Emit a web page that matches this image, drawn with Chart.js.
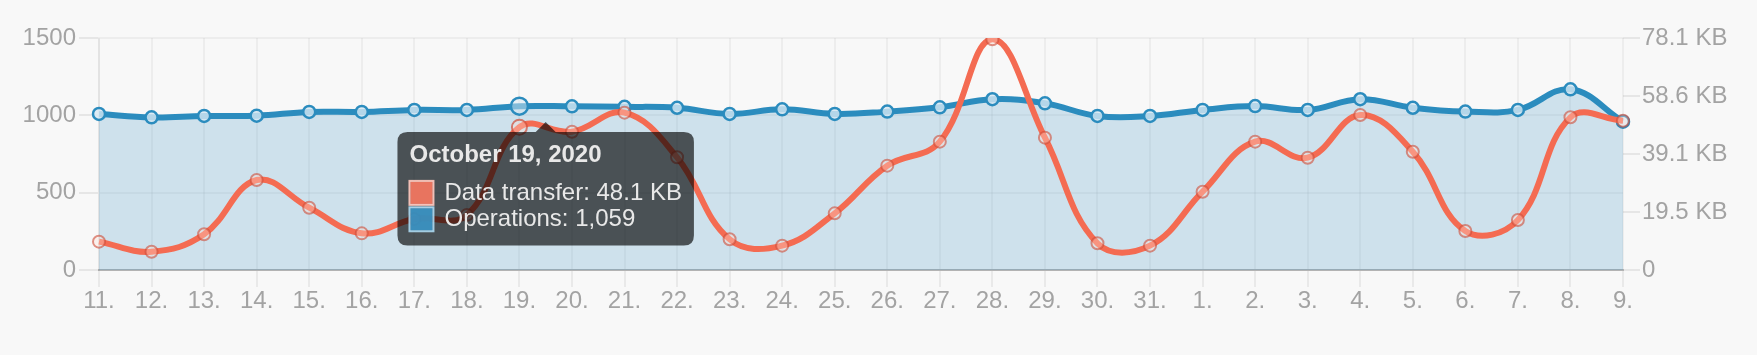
<!DOCTYPE html>
<html>
<head>
<meta charset="utf-8">
<script src="https://cdn.jsdelivr.net/npm/chart.js@4/dist/chart.umd.min.js"></script>
<style>
  html, body { margin: 0; padding: 0; background: #f8f8f8; }
  #wrap { width: 1757px; height: 355px; position: relative; }
</style>
</head>
<body>
<div id="wrap"><canvas id="c" width="1757" height="355"></canvas></div>
<script>
// ---- data ----
const dates = [
  '2020-10-11','2020-10-12','2020-10-13','2020-10-14','2020-10-15','2020-10-16','2020-10-17',
  '2020-10-18','2020-10-19','2020-10-20','2020-10-21','2020-10-22','2020-10-23','2020-10-24',
  '2020-10-25','2020-10-26','2020-10-27','2020-10-28','2020-10-29','2020-10-30','2020-10-31',
  '2020-11-01','2020-11-02','2020-11-03','2020-11-04','2020-11-05','2020-11-06','2020-11-07',
  '2020-11-08','2020-11-09'
];
// bytes
const dataTransfer = [
  9770, 6310, 12310, 31030, 21490, 12640, 17600, 19000, 49254, 47690,
  54250, 38860, 10580, 8390, 19540, 35980, 44250, 79540, 45630, 9200,
  8390, 27000, 44250, 38720, 53450, 40800, 13450, 17240, 52650, 51480
];
const operations = [
  1009, 987, 996, 998, 1022, 1022, 1035, 1035, 1059, 1058,
  1055, 1049, 1009, 1039, 1009, 1024, 1052, 1104, 1078, 996,
  996, 1035, 1060, 1035, 1104, 1049, 1024, 1035, 1168, 959
];
const opsTicks = [0, 500, 1000, 1500];
const bytesTicks = [0, 20000, 40000, 60000, 80000];
const monthNames = ['January','February','March','April','May','June','July','August','September','October','November','December'];
const hoveredIndex = 8;          // October 19
const mousePos = { index: 8.5, ops: 957 }; // where the pointer rests

const dayLabels = dates.map(d => parseInt(d.slice(8, 10), 10) + '.');
const fullTitle = d => {
  const [y, m, dd] = d.split('-').map(Number);
  return monthNames[m - 1] + ' ' + dd + ', ' + y;
};
const kb = v => v === 0 ? '0' : (v / 1024).toFixed(1) + ' KB';

const FONT = "'Liberation Sans', Arial, Helvetica, sans-serif";
const tickColor = '#a3a3a3';
const gridColor = 'rgba(0,0,0,0.045)';
const RED = '#f46b52';
const BLUE = '#2b8cbe';

Chart.Tooltip.positioners.pointer = function (elements, eventPosition) {
  return eventPosition;
};

const chart = new Chart(document.getElementById('c'), {
  type: 'line',
  data: {
    labels: dayLabels,
    datasets: [
      {
        label: 'Data transfer',
        data: dataTransfer,
        yAxisID: 'y1',
        borderColor: RED,
        borderWidth: 6,
        backgroundColor: 'rgba(244,107,82,0.2)',
        fill: false,
        tension: 0.4,
        pointRadius: 6,
        pointHoverRadius: 7.5,
        pointBorderWidth: 2,
        pointHoverBorderWidth: 2,
        pointBorderColor: 'rgba(205,75,55,0.6)',
        pointBackgroundColor: 'rgba(255,225,215,0.35)',
        pointHoverBorderColor: 'rgba(205,75,55,0.7)',
        pointHoverBackgroundColor: 'rgba(255,225,215,0.35)'
      },
      {
        label: 'Operations',
        data: operations,
        yAxisID: 'y',
        borderColor: BLUE,
        borderWidth: 6,
        backgroundColor: 'rgba(41,137,190,0.2)',
        fill: 'origin',
        tension: 0.4,
        pointRadius: 6,
        pointHoverRadius: 8.5,
        pointBorderWidth: 2.5,
        pointHoverBorderWidth: 2.5,
        pointBorderColor: BLUE,
        pointBackgroundColor: 'rgba(215,233,244,0.8)',
        pointHoverBorderColor: BLUE,
        pointHoverBackgroundColor: 'rgba(215,233,244,0.5)'
      }
    ]
  },
  options: {
    responsive: false,
    animation: false,
    devicePixelRatio: 1,
    layout: { padding: { top: 38, left: 0, right: 0, bottom: 0 } },
    interaction: { mode: 'index', intersect: false },
    events: [],
    plugins: {
      legend: { display: false },
      tooltip: {
        enabled: true,
        position: 'pointer',
        xAlign: 'center',
        yAlign: 'top',
        backgroundColor: 'rgba(0,0,0,0.64)',
        titleColor: '#e8e8e8',
        bodyColor: '#e8e8e8',
        titleFont: { family: FONT, size: 24, weight: 'bold', lineHeight: 1.05 },
        bodyFont: { family: FONT, size: 24, lineHeight: 1.1 },
        titleMarginBottom: 11.5,
        bodySpacing: 0,
        padding: { top: 11, bottom: 13, left: 12, right: 12 },
        caretSize: 10,
        caretPadding: 0,
        cornerRadius: 10,
        boxWidth: 24,
        boxHeight: 24,
        boxPadding: 9,
        multiKeyBackground: 'rgba(255,255,255,0.5)',
        callbacks: {
          title: items => fullTitle(dates[items[0].dataIndex]),
          label: item => item.datasetIndex === 0
            ? 'Data transfer: ' + kb(item.raw)
            : 'Operations: ' + item.raw.toLocaleString('en-US'),
          labelColor: item => item.datasetIndex === 0
            ? { borderColor: 'rgba(255,200,190,0.9)', backgroundColor: 'rgba(244,107,82,0.85)', borderWidth: 2 }
            : { borderColor: 'rgba(170,215,240,0.9)', backgroundColor: 'rgba(41,137,190,0.85)', borderWidth: 2 }
        }
      }
    },
    scales: {
      x: {
        offset: false,
        grid: { color: gridColor, lineWidth: 2, tickLength: 17, tickColor: 'rgba(0,0,0,0.06)' },
        border: { color: '#b3b3b3', width: 2 },
        ticks: { color: tickColor, font: { family: FONT, size: 24 }, padding: 0, maxRotation: 0, autoSkip: false },
        afterFit: s => { s.height = 85; }
      },
      y: {
        position: 'left',
        min: 0, max: 1500,
        afterBuildTicks: s => { s.ticks = opsTicks.map(v => ({ value: v })); },
        grid: { color: gridColor, lineWidth: 2, tickLength: 20, tickColor: 'rgba(0,0,0,0.07)' },
        border: { color: gridColor, width: 2 },
        ticks: { color: tickColor, font: { family: FONT, size: 24 }, padding: 3, callback: v => String(v) },
        afterFit: s => { s.width = 99; }
      },
      y1: {
        position: 'right',
        min: 0, max: 80000,
        afterBuildTicks: s => { s.ticks = bytesTicks.map(v => ({ value: v })); },
        grid: { drawOnChartArea: false, lineWidth: 2, tickLength: 17, tickColor: 'rgba(0,0,0,0.07)' },
        border: { display: false },
        ticks: { color: tickColor, font: { family: FONT, size: 24 }, padding: 2, callback: v => kb(v) },
        afterFit: s => { s.width = 134; }
      }
    }
  }
});

const active = [
  { datasetIndex: 0, index: hoveredIndex },
  { datasetIndex: 1, index: hoveredIndex }
];
const pos = {
  x: chart.scales.x.getPixelForValue(mousePos.index),
  y: chart.scales.y.getPixelForValue(mousePos.ops)
};
chart.setActiveElements(active);
chart.tooltip.setActiveElements(active, pos);
chart.update();
</script>
</body>
</html>
